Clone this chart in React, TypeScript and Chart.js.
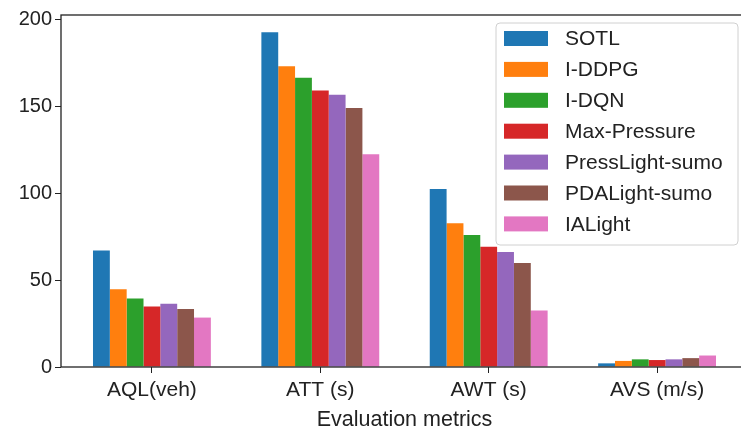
import React, { useEffect, useRef } from 'react';
import { Chart, registerables } from 'chart.js';

Chart.register(...registerables);

const categories = ['AQL(veh)', 'ATT (s)', 'AWT (s)', 'AVS (m/s)'];
const methods = ['SOTL', 'I-DDPG', 'I-DQN', 'Max-Pressure', 'PressLight-sumo', 'PDALight-sumo', 'IALight'];
const sotl = [66.9, 192.4, 102.3, 2.1];
const iddpg = [44.7, 172.9, 82.6, 3.5];
const idqn = [39.4, 166.3, 75.9, 4.4];
const maxPressure = [34.7, 158.9, 69.1, 4.0];
const pressLight = [36.4, 156.4, 66.1, 4.4];
const pdaLight = [33.3, 148.9, 59.7, 5.1];
const iaLight = [28.4, 122.2, 32.4, 6.6];
const yTicks = [0, 50, 100, 150, 200];
const colors = ['#1f77b4', '#ff7f0e', '#2ca02c', '#d62728', '#9467bd', '#8c564b', '#e377c2'];

const FONT = '"Liberation Sans", Arial, sans-serif';

const frameAndLegend = {
  id: 'frameAndLegend',
  afterDraw(chart: any) {
    const { ctx, chartArea } = chart;
    ctx.save();
    // spines
    ctx.strokeStyle = '#222';
    ctx.lineWidth = 1.3;
    ctx.strokeRect(chartArea.left, chartArea.top, chartArea.right - chartArea.left, chartArea.bottom - chartArea.top);
    // legend
    const bx = 496, by = 23, bw = 242, bh = 222, r = 4;
    ctx.beginPath();
    ctx.moveTo(bx + r, by);
    ctx.lineTo(bx + bw - r, by);
    ctx.quadraticCurveTo(bx + bw, by, bx + bw, by + r);
    ctx.lineTo(bx + bw, by + bh - r);
    ctx.quadraticCurveTo(bx + bw, by + bh, bx + bw - r, by + bh);
    ctx.lineTo(bx + r, by + bh);
    ctx.quadraticCurveTo(bx, by + bh, bx, by + bh - r);
    ctx.lineTo(bx, by + r);
    ctx.quadraticCurveTo(bx, by, bx + r, by);
    ctx.closePath();
    ctx.fillStyle = 'rgba(255,255,255,0.8)';
    ctx.fill();
    ctx.strokeStyle = '#d0d0d0';
    ctx.lineWidth = 1;
    ctx.stroke();
    ctx.font = `21px ${FONT}`;
    ctx.textBaseline = 'middle';
    ctx.textAlign = 'left';
    chart.data.datasets.forEach((ds: any, i: number) => {
      const cy = 38.5 + i * 30.9;
      ctx.fillStyle = ds.backgroundColor;
      ctx.fillRect(504, cy - 7.5, 44, 15);
      ctx.fillStyle = '#222';
      ctx.fillText(ds.label, 565, cy + 1);
    });
    ctx.restore();
  },
};

export default function App() {
  const ref = useRef<HTMLCanvasElement>(null);
  useEffect(() => {
    const series = [sotl, iddpg, idqn, maxPressure, pressLight, pdaLight, iaLight];
    const chart = new Chart(ref.current!, {
      type: 'bar',
      data: {
        datasets: series.map((vals, i) => ({
          label: methods[i],
          data: vals.map((v, j) => ({ x: j, y: v })),
          backgroundColor: colors[i],
          borderWidth: 0,
          categoryPercentage: 0.7,
          barPercentage: 1.0,
        })),
      },
      options: {
        responsive: false,
        animation: false,
        layout: { padding: { left: 0, top: 11, right: 12, bottom: 0 } },
        plugins: { legend: { display: false }, tooltip: { enabled: false } },
        scales: {
          x: {
            type: 'linear',
            min: -0.54,
            max: 3.54,
            offset: false,
            grid: { display: true, drawOnChartArea: false, drawTicks: true, tickLength: 6, color: '#222', offset: false },
            border: { display: false },
            afterBuildTicks: (scale: any) => {
              scale.ticks = categories.map((_, i) => ({ value: i }));
            },
            afterFit: (scale: any) => {
              scale.height = 67;
            },
            ticks: {
              autoSkip: false,
              maxRotation: 0,
              padding: 5,
              color: '#222',
              font: { family: FONT, size: 21 },
              callback: (v: any) => categories[v as number] ?? '',
            },
            title: {
              display: true,
              text: 'Evaluation metrics',
              color: '#222',
              font: { family: FONT, size: 21.5 },
              padding: { top: 0, bottom: 1 },
            },
          },
          y: {
            min: 0,
            max: 202.3,
            grid: { display: true, drawOnChartArea: false, drawTicks: true, tickLength: 6, color: '#222' },
            border: { display: false },
            afterBuildTicks: (scale: any) => {
              scale.ticks = yTicks.map((v) => ({ value: v }));
            },
            afterFit: (scale: any) => {
              scale.width = 61;
            },
            ticks: {
              padding: 3,
              color: '#222',
              font: { family: FONT, size: 20 },
            },
          },
        },
      },
      plugins: [frameAndLegend],
    } as any);
    return () => chart.destroy();
  }, []);
  return (
    <div style={{ position: 'fixed', left: 0, top: 0, width: 741, height: 434, overflow: 'hidden', background: '#fff' }}>
      <canvas ref={ref} width={760} height={434} style={{ display: 'block' }} />
    </div>
  );
}
